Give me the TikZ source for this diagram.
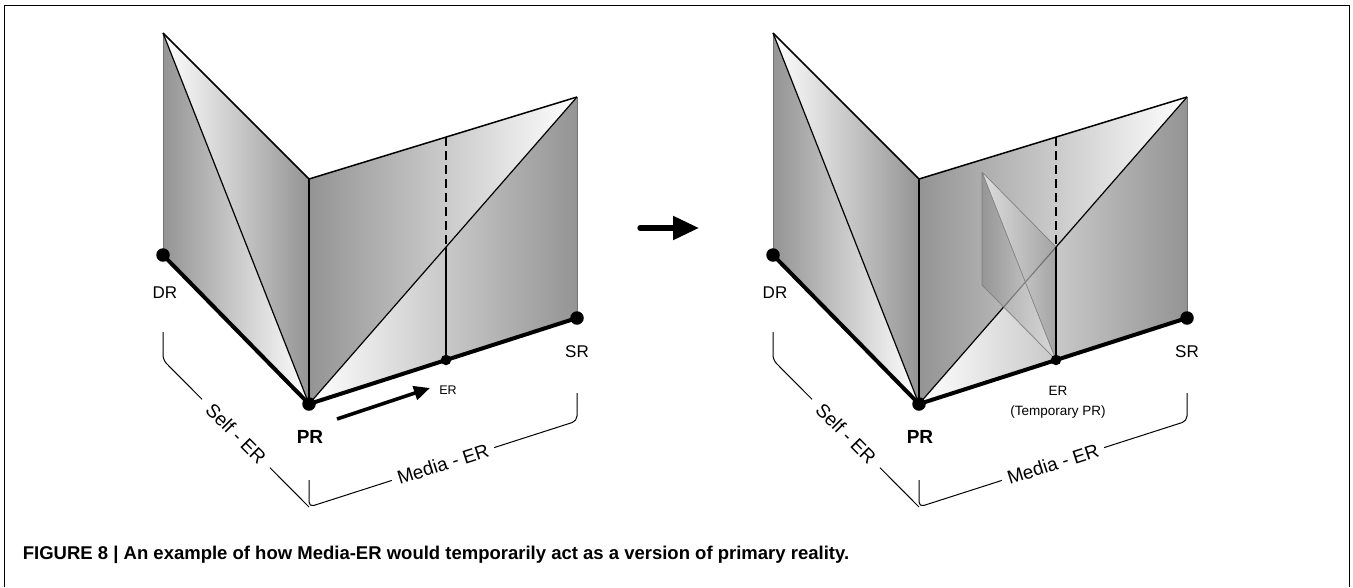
\documentclass[tikz,border=0pt]{standalone}
\usepackage{fontspec}
\setmainfont{Liberation Sans}
\usetikzlibrary{arrows.meta}
\begin{document}
\begin{tikzpicture}[x=1pt,y=-1pt,
  topedge/.style={line width=1.5pt, line join=round},
  diag/.style={line width=1.2pt},
  sideedge/.style={line width=0.6pt, black!55},
  thickedge/.style={line width=4pt, line join=round},
  foldedge/.style={line width=2.6pt},
  dot/.style={circle, fill=black, inner sep=0pt, minimum size=13.5pt},
  smalldot/.style={circle, fill=black, inner sep=0pt, minimum size=10.5pt},
  lbl/.style={font=\fontsize{17}{20}\selectfont},
  brk/.style={line width=1pt, rounded corners=5pt},
  brklbl/.style={sloped, fill=white, inner ysep=2pt, font=\fontsize{19}{22}\selectfont},
]
\useasboundingbox (0,0) rectangle (1353,587);
\draw[line width=1.4pt] (4.5,587) -- (4.5,5.5) -- (1349.3,5.5) -- (1349.3,587);

\foreach \sx/\t in {0/L,610/R}{
\begin{scope}[xshift=\sx pt]
  \coordinate (A\t) at (163,33);
  \coordinate (B\t) at (163,255);
  \coordinate (P\t) at (309,404);
  \coordinate (F\t) at (309,179);
  \coordinate (T\t) at (577,97);
  \coordinate (S\t) at (577,318);
  \coordinate (E\t) at (446,360);
  \coordinate (D\t) at (446,137);
  \coordinate (X\t) at (446,247);
  % shaded faces
  \shade[left color=black!42, right color=white] (A\t) -- (B\t) -- (P\t) -- cycle;
  \shade[left color=white, right color=black!42] (A\t) -- (F\t) -- (P\t) -- cycle;
  \shade[left color=black!42, right color=white] (F\t) -- (T\t) -- (P\t) -- cycle;
  \shade[left color=white, middle color=black!32, right color=black!42] (P\t) -- (T\t) -- (S\t) -- cycle;
  % edges
  \draw[sideedge] (A\t) -- (B\t) (T\t) -- (S\t);
  \draw[diag] (A\t) -- (P\t) (P\t) -- (T\t);
  \draw[topedge] (A\t) -- (F\t) -- (T\t);
  \draw[foldedge] (F\t) -- (P\t);
  \draw[diag, dash pattern=on 9pt off 5pt] (D\t) -- (X\t);
  \ifnum\sx=610
    \coordinate (Q1) at (372,172);
    \coordinate (Q4) at (372,285);
    \shade[fill opacity=0.7, left color=black!5, right color=black!42] (Q1) -- (X\t) -- (E\t) -- cycle;
    \shade[fill opacity=0.7, left color=black!45, right color=black!12] (Q1) -- (Q4) -- (E\t) -- cycle;
    \draw[black!50, line width=0.7pt] (Q1) -- (X\t) (Q1) -- (Q4) -- (E\t) (Q1) -- (E\t);
  \fi
  \draw[diag] (X\t) -- (E\t);
  \draw[thickedge] (B\t) -- (P\t) -- (S\t);
  \node[dot] (DR\t) at (B\t) {};
  \node[dot] (PR\t) at (P\t) {};
  \node[dot] (SR\t) at (S\t) {};
  \node[smalldot] (ER\t) at (E\t) {};
  % labels
  \node[lbl] (DRlab\t) at (165,293) {DR};
  \node[lbl] (SRlab\t) at (577,352) {SR};
  \node[font=\fontsize{19}{22}\bfseries\selectfont] (PRlab\t) at (310,437) {PR};
  % brackets
  \draw[brk] (163,332) -- (163,360) -- node[brklbl, inner xsep=10pt] (self\t) {Self - ER} (309,507);
  \draw[brk] (309,480) -- (309,507) -- node[brklbl, inner xsep=6pt] (media\t) {Media - ER} (577,421) -- (577,393);
\end{scope}
}

% left-only labels and arrow
\node[font=\fontsize{12.5}{14}\selectfont] (ERlabL) at (448,390) {ER};
\coordinate (arrS) at (337,419);
\coordinate (arrE) at (430,388);
\draw[line width=3.5pt, -{Triangle[length=16pt,width=14pt]}] (arrS) -- (arrE);

% right-only labels
\node[font=\fontsize{13.5}{15}\selectfont] (ERlabR) at (1058,391) {ER};
\node[font=\fontsize{13.5}{15}\selectfont] (tmpR) at (1058,412.5) {(Temporary PR)};

% middle arrow
\coordinate (midS) at (640,228);
\coordinate (midE) at (699,228);
\draw[line width=5.3pt, line cap=round, -{Triangle[length=26pt,width=23pt]}] (midS) -- (midE);

% caption
\node[anchor=base west, inner sep=0pt, font=\fontsize{18.5}{22}\bfseries\selectfont] (cap) at (22.7,559)
  {FIGURE 8 | An example of how Media-ER would temporarily act as a version of primary reality.};
\end{tikzpicture}
\end{document}
